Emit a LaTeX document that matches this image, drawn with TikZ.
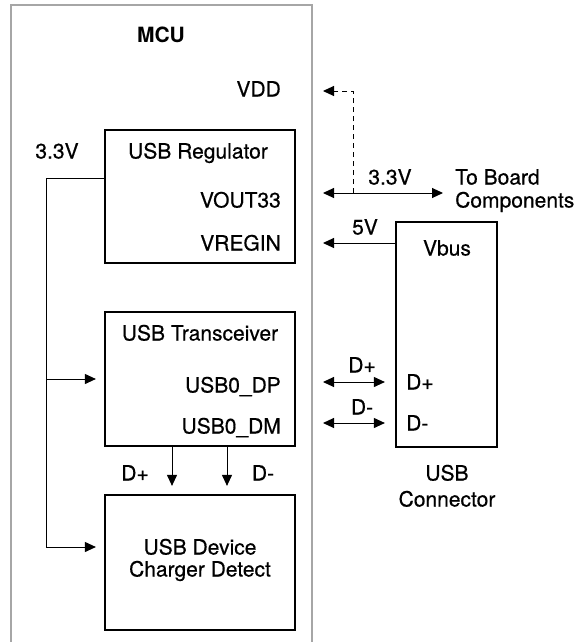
\documentclass[tikz,border=0pt]{standalone}
\usepackage{fontspec}
\setmainfont{TeX Gyre Heros}
\newfontfamily\medium[FakeBold=0.5]{TeX Gyre Heros}
\usetikzlibrary{arrows.meta}

\begin{document}
\begin{tikzpicture}[x=1pt, y=-1pt,
    font=\medium\fontsize{21}{25}\selectfont,
    every node/.style={inner sep=0pt, text height=15pt, text depth=0pt},
    bloc/.style={draw, line width=2.2pt},
    fil/.style={line width=1pt},
    fleche/.style={fil, -{Triangle[length=11pt, width=10pt]}},
    dfleche/.style={fil, {Triangle[length=11pt, width=10pt]}-{Triangle[length=11pt, width=10pt]}}]
    \useasboundingbox (0,0) rectangle (586,642);

    % --- Définition des coordonnées ---
    \coordinate (rail) at (46,178);
    \coordinate (vddin) at (323,91);
    \coordinate (coude) at (353,193);
    \coordinate (v33g) at (323,193);
    \coordinate (v33d) at (443,193);
    \coordinate (v5) at (323,243);
    \coordinate (dpg) at (323,382);
    \coordinate (dmg) at (323,423);

    % --- Cadre MCU ---
    \draw[gray!70, line width=1.5pt] (11,642) -- (11,5) -- (312,5) -- (312,642);
    \node[font=\rmfamily\bfseries\fontsize{21}{25}\selectfont] (mcu) at (161,35) {MCU};
    \node[anchor=east] (vdd) at (281,89) {VDD};

    % --- Blocs ---
    \node[bloc, minimum width=190pt, minimum height=133pt] (reg) at (200,196.5) {};
    \node[bloc, minimum width=190pt, minimum height=134pt] (trx) at (200,379) {};
    \node[bloc, minimum width=190pt, minimum height=135pt] (chg) at (200,562.5) {};
    \node[bloc, minimum width=101pt, minimum height=225pt] (vbus) at (446.5,334.5) {};

    % --- USB Regulator ---
    \node (treg) at (198,151) {USB Regulator};
    \node[anchor=east] (vout) at (281,200) {VOUT33};
    \node[anchor=east] (vregin) at (281,243) {VREGIN};
    \node (l33int) at (57,151) {3.3V};

    % --- USB Transceiver ---
    \node (ttrx) at (200,333) {USB Transceiver};
    \node[anchor=east] (usbdp) at (281,385) {USB0\_DP};
    \node[anchor=east] (usbdm) at (281,426) {USB0\_DM};

    % --- USB Device Charger Detect ---
    \node (tchg1) at (200,547) {USB Device};
    \node (tchg2) at (200,569) {Charger Detect};
    \node (ldp) at (135,473) {D+};
    \node (ldm) at (263,473) {D-};

    % --- Rail 3.3V interne ---
    \draw[fil] (reg.west |- rail) -- (rail);
    \draw[fleche] (rail) |- ([xshift=-8pt]trx.west);
    \draw[fleche] (rail) |- ([xshift=-8pt, yshift=15.5pt]chg.west);
    \draw[fleche] ([xshift=-28pt]trx.south) -- ([xshift=-28pt, yshift=8pt]chg.north);
    \draw[fleche] ([xshift=27pt]trx.south) -- ([xshift=27pt, yshift=8pt]chg.north);

    % --- Sorties vers la carte ---
    \draw[fleche, dash pattern=on 5pt off 4pt] (coude) |- (vddin);
    \draw[dfleche] (v33g) -- (v33d);
    \node (l33) at (390,177) {3.3V};
    \node[anchor=west] (board1) at (455,177) {To Board};
    \node[anchor=west] (board2) at (455,200) {Components};

    % --- Connecteur USB ---
    \node (tvbus) at (447,248) {Vbus};
    \node[anchor=west] (cdp) at (406,382) {D+};
    \node[anchor=west] (cdm) at (406,423) {D-};
    \node (usb) at (447,473) {USB};
    \node (conn) at (447,499) {Connector};
    \draw[fleche] (vbus.west |- v5) -- (v5);
    \node (l5) at (365,227) {5V};
    \draw[dfleche, shorten >=10pt] (dpg) -- (vbus.west |- dpg);
    \draw[dfleche, shorten >=10pt] (dmg) -- (vbus.west |- dmg);
    \node (ldp2) at (362,365) {D+};
    \node (ldm2) at (362,407) {D-};
\end{tikzpicture}
\end{document}
